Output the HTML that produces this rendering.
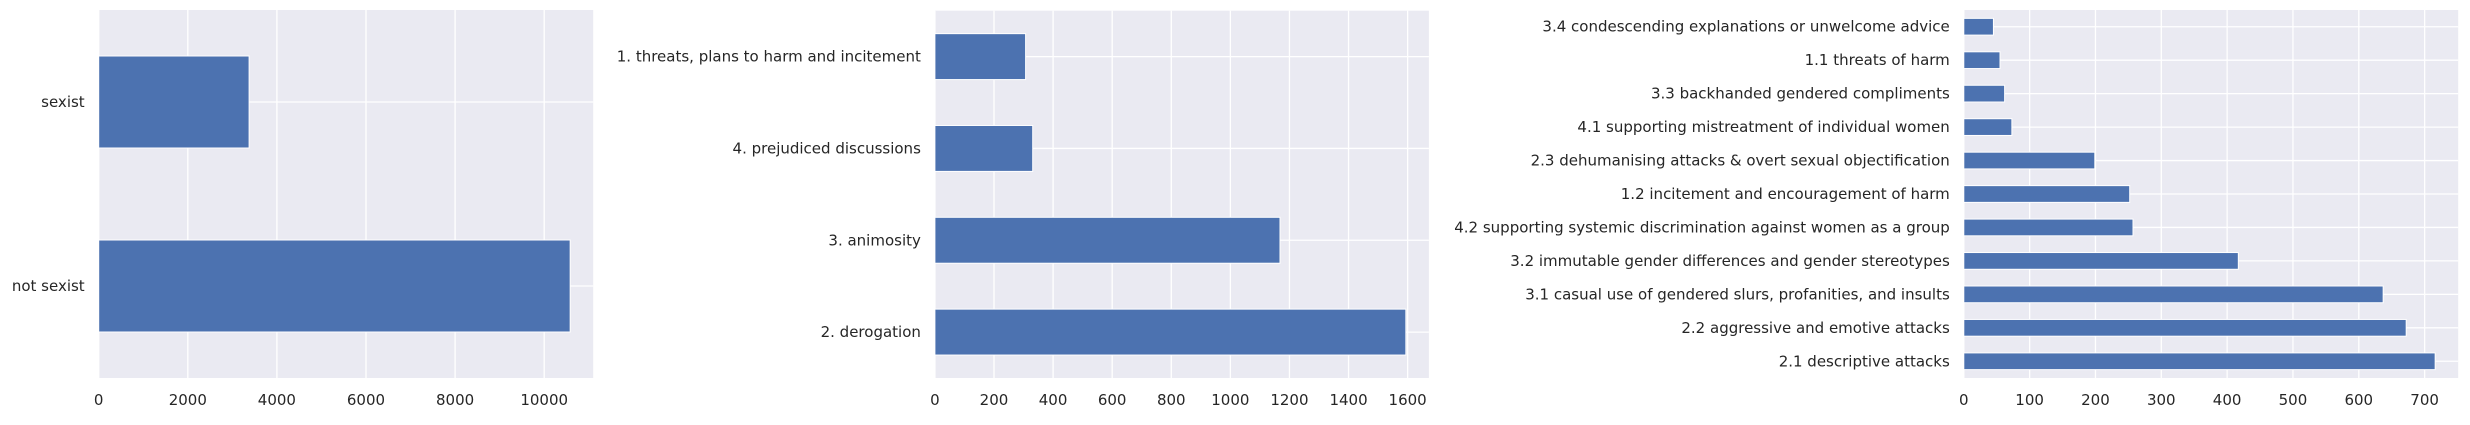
<!DOCTYPE html>
<html><head><meta charset="utf-8"><style>
html,body{margin:0;padding:0;background:#fff;}
svg{display:block;font-family:"DejaVu Sans","Liberation Sans",sans-serif;}
</style></head><body>
<svg id="fig" width="2470" height="425" viewBox="0 0 2470 425"></svg>
<script>
const cats1 = ["not sexist","sexist"];
const vals1 = [10583,3376];
const ticks1 = [0,2000,4000,6000,8000,10000];

const cats2 = ["2. derogation","3. animosity","4. prejudiced discussions","1. threats, plans to harm and incitement"];
const vals2 = [1594,1168,331,307];
const ticks2 = [0,200,400,600,800,1000,1200,1400,1600];

const cats3 = ["2.1 descriptive attacks","2.2 aggressive and emotive attacks","3.1 casual use of gendered slurs, profanities, and insults","3.2 immutable gender differences and gender stereotypes","4.2 supporting systemic discrimination against women as a group","1.2 incitement and encouragement of harm","2.3 dehumanising attacks & overt sexual objectification","4.1 supporting mistreatment of individual women","3.3 backhanded gendered compliments","1.1 threats of harm","3.4 condescending explanations or unwelcome advice"];
const vals3 = [716,672,637,417,257,252,199,73,62,55,45];
const ticks3 = [0,100,200,300,400,500,600,700];

const NS="http://www.w3.org/2000/svg";
const svg=document.getElementById('fig');
function mk(tag,attrs,parent){const e=document.createElementNS(NS,tag);for(const k in attrs)e.setAttribute(k,attrs[k]);(parent||svg).appendChild(e);return e;}

function chart(id,L,R,T,B,xmax,cats,vals,ticks){
  const g=mk('g',{});
  
  
  const x=v=>L+(v/xmax)*(R-L);
  const n=cats.length;
  const band=(B-T)/n;
  const y=i=>B-band*(i+0.5);
  const bg=mk('rect',{x:L,y:T,width:R-L,height:B-T,fill:'#eaeaf2'},g);
  
  
  ticks.forEach(t=>{
    const ln=mk('line',{x1:x(t),x2:x(t),y1:T,y2:B,stroke:'#fff','stroke-width':1.3},g);
    
    
    const tx=mk('text',{x:x(t),y:405,'font-size':15,'text-anchor':'middle',fill:'#262626'},g);
    tx.textContent=t;
    
    
  });
  cats.forEach((c,i)=>{
    const ln=mk('line',{x1:L,x2:R,y1:y(i),y2:y(i),stroke:'#fff','stroke-width':1.3},g);
    
    
  });
  cats.forEach((c,i)=>{
    const bw=band*0.5;
    const r=mk('rect',{x:L,y:y(i)-bw/2,width:x(vals[i])-L,height:bw,fill:'#4c72b0',stroke:'#fff','stroke-width':1},g);
    
    
    const tx=mk('text',{x:L-14,y:y(i)+5,'font-size':15,'text-anchor':'end',fill:'#262626'},g);
    tx.textContent=c;
    
    
  });
}
chart('chart-sexist-binary',98.7,593.2,10,378,11100,cats1,vals1,ticks1);
chart('chart-category',934.9,1428.9,10.7,378,1672,cats2,vals2,ticks2);
chart('chart-vector',1963.8,2458.2,10,378,751,cats3,vals3,ticks3);
</script>
</body></html>
